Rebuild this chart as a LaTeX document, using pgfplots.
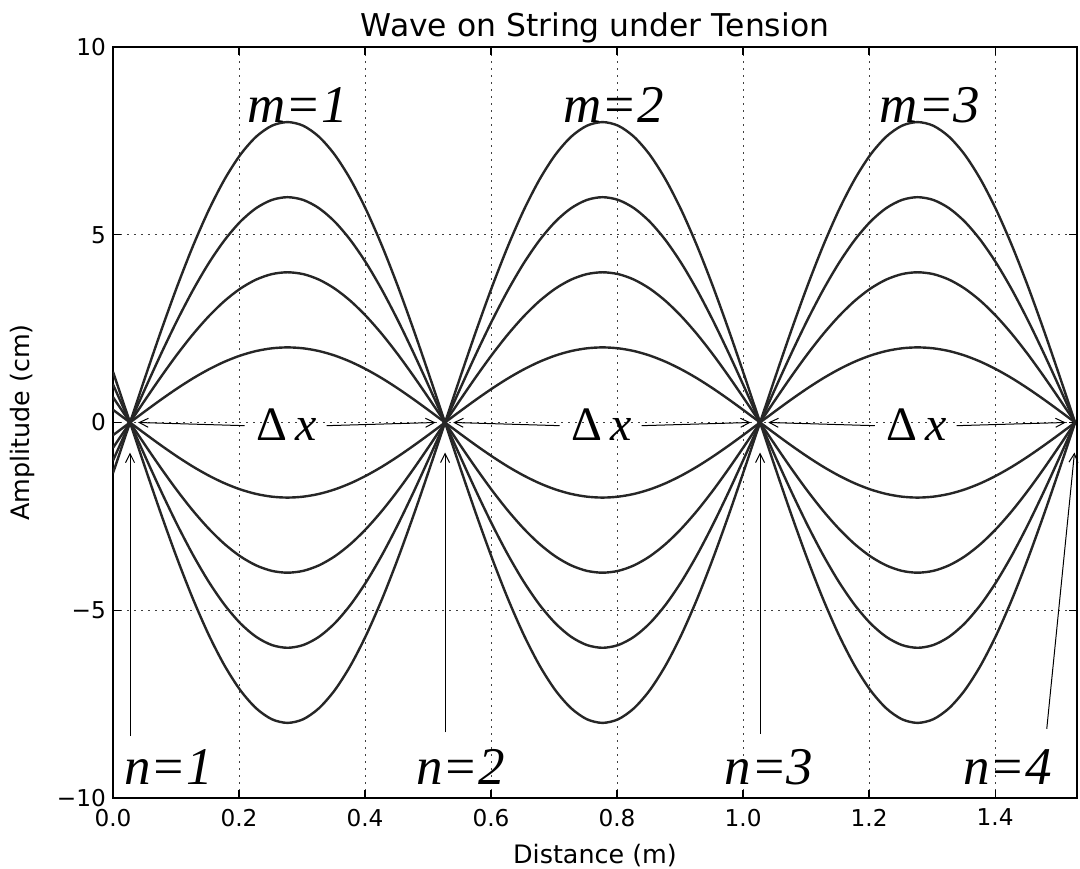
\documentclass[border=0pt]{standalone}
\usepackage{fontspec}
\setmainfont{DejaVu Sans}
\newfontfamily\ann{Liberation Serif}
\usepackage{pgfplots}
\pgfplotsset{compat=1.18}
\usepackage{pgfplotstable}
\usetikzlibrary{arrows.meta}

% standing waves: p = positive amplitude, q = negative amplitude
\pgfplotstableread{
x      p2     p4     p6     p8     q2     q4     q6     q8
0.000 -0.338 -0.675 -1.013 -1.350  0.338  0.675  1.013  1.350
0.027  0      0      0      0      0      0      0      0
0.052  0.313  0.626  0.938  1.251 -0.313 -0.626 -0.938 -1.251
0.077  0.618  1.236  1.854  2.472 -0.618 -1.236 -1.854 -2.472
0.102  0.908  1.816  2.724  3.632 -0.908 -1.816 -2.724 -3.632
0.127  1.176  2.351  3.527  4.702 -1.176 -2.351 -3.527 -4.702
0.152  1.414  2.828  4.243  5.657 -1.414 -2.828 -4.243 -5.657
0.177  1.618  3.236  4.854  6.472 -1.618 -3.236 -4.854 -6.472
0.202  1.782  3.564  5.346  7.128 -1.782 -3.564 -5.346 -7.128
0.227  1.902  3.804  5.706  7.608 -1.902 -3.804 -5.706 -7.608
0.252  1.975  3.951  5.926  7.902 -1.975 -3.951 -5.926 -7.902
0.277  2      4      6      8     -2     -4     -6     -8
0.302  1.975  3.951  5.926  7.902 -1.975 -3.951 -5.926 -7.902
0.327  1.902  3.804  5.706  7.608 -1.902 -3.804 -5.706 -7.608
0.352  1.782  3.564  5.346  7.128 -1.782 -3.564 -5.346 -7.128
0.377  1.618  3.236  4.854  6.472 -1.618 -3.236 -4.854 -6.472
0.402  1.414  2.828  4.243  5.657 -1.414 -2.828 -4.243 -5.657
0.427  1.176  2.351  3.527  4.702 -1.176 -2.351 -3.527 -4.702
0.452  0.908  1.816  2.724  3.632 -0.908 -1.816 -2.724 -3.632
0.477  0.618  1.236  1.854  2.472 -0.618 -1.236 -1.854 -2.472
0.502  0.313  0.626  0.938  1.251 -0.313 -0.626 -0.938 -1.251
0.527  0      0      0      0      0      0      0      0
0.552 -0.313 -0.626 -0.938 -1.251  0.313  0.626  0.938  1.251
0.577 -0.618 -1.236 -1.854 -2.472  0.618  1.236  1.854  2.472
0.602 -0.908 -1.816 -2.724 -3.632  0.908  1.816  2.724  3.632
0.627 -1.176 -2.351 -3.527 -4.702  1.176  2.351  3.527  4.702
0.652 -1.414 -2.828 -4.243 -5.657  1.414  2.828  4.243  5.657
0.677 -1.618 -3.236 -4.854 -6.472  1.618  3.236  4.854  6.472
0.702 -1.782 -3.564 -5.346 -7.128  1.782  3.564  5.346  7.128
0.727 -1.902 -3.804 -5.706 -7.608  1.902  3.804  5.706  7.608
0.752 -1.975 -3.951 -5.926 -7.902  1.975  3.951  5.926  7.902
0.777 -2     -4     -6     -8      2      4      6      8
0.802 -1.975 -3.951 -5.926 -7.902  1.975  3.951  5.926  7.902
0.827 -1.902 -3.804 -5.706 -7.608  1.902  3.804  5.706  7.608
0.852 -1.782 -3.564 -5.346 -7.128  1.782  3.564  5.346  7.128
0.877 -1.618 -3.236 -4.854 -6.472  1.618  3.236  4.854  6.472
0.902 -1.414 -2.828 -4.243 -5.657  1.414  2.828  4.243  5.657
0.927 -1.176 -2.351 -3.527 -4.702  1.176  2.351  3.527  4.702
0.952 -0.908 -1.816 -2.724 -3.632  0.908  1.816  2.724  3.632
0.977 -0.618 -1.236 -1.854 -2.472  0.618  1.236  1.854  2.472
1.002 -0.313 -0.626 -0.938 -1.251  0.313  0.626  0.938  1.251
1.027  0      0      0      0      0      0      0      0
1.052  0.313  0.626  0.938  1.251 -0.313 -0.626 -0.938 -1.251
1.077  0.618  1.236  1.854  2.472 -0.618 -1.236 -1.854 -2.472
1.102  0.908  1.816  2.724  3.632 -0.908 -1.816 -2.724 -3.632
1.127  1.176  2.351  3.527  4.702 -1.176 -2.351 -3.527 -4.702
1.152  1.414  2.828  4.243  5.657 -1.414 -2.828 -4.243 -5.657
1.177  1.618  3.236  4.854  6.472 -1.618 -3.236 -4.854 -6.472
1.202  1.782  3.564  5.346  7.128 -1.782 -3.564 -5.346 -7.128
1.227  1.902  3.804  5.706  7.608 -1.902 -3.804 -5.706 -7.608
1.252  1.975  3.951  5.926  7.902 -1.975 -3.951 -5.926 -7.902
1.277  2      4      6      8     -2     -4     -6     -8
1.302  1.975  3.951  5.926  7.902 -1.975 -3.951 -5.926 -7.902
1.327  1.902  3.804  5.706  7.608 -1.902 -3.804 -5.706 -7.608
1.352  1.782  3.564  5.346  7.128 -1.782 -3.564 -5.346 -7.128
1.377  1.618  3.236  4.854  6.472 -1.618 -3.236 -4.854 -6.472
1.402  1.414  2.828  4.243  5.657 -1.414 -2.828 -4.243 -5.657
1.427  1.176  2.351  3.527  4.702 -1.176 -2.351 -3.527 -4.702
1.452  0.908  1.816  2.724  3.632 -0.908 -1.816 -2.724 -3.632
1.477  0.618  1.236  1.854  2.472 -0.618 -1.236 -1.854 -2.472
1.502  0.313  0.626  0.938  1.251 -0.313 -0.626 -0.938 -1.251
1.527  0      0      0      0      0      0      0      0
}\wave

\begin{document}
\begin{tikzpicture}[
    wave/.style={black!85, line width=1.2pt, smooth},
    lab/.style={font=\fontsize{26.5}{30}\selectfont\ann\itshape, anchor=base, inner sep=0pt},
    dx/.style={font=\fontsize{24}{28}\selectfont\ann, inner sep=0pt},
    arr/.style={black, line width=0.5pt, -{Straight Barb[length=4.5pt,width=4.5pt]}},
]
\begin{axis}[
    name=ax,
    width=482pt, height=375.5pt, scale only axis,
    xmin=0, xmax=1.53, ymin=-10, ymax=10,
    xtick={0,0.2,0.4,0.6,0.8,1.0,1.2,1.4},
    xticklabels={0.0,0.2,0.4,0.6,0.8,1.0,1.2,1.4},
    ytick={-10,-5,0,5,10},
    yticklabels={−10,−5,0,5,10},
    tick pos=both, tick align=inside,
    major tick length=4pt,
    tick style={black, line width=0.6pt},
    axis line style={black, line width=0.9pt},
    grid=major,
    major grid style={black!75, line width=0.5pt, dash pattern=on 1pt off 2.5pt},
    tick label style={font=\fontsize{11.6}{13}\selectfont},
    xticklabel style={yshift=-2pt},
    title={Wave on String under Tension},
    title style={font=\fontsize{15.7}{18}\selectfont, at={(axis description cs:0.5,1)}, anchor=base, yshift=-1pt},
    xlabel={Distance (m)},
    ylabel={Amplitude (cm)},
    label style={font=\fontsize{12.7}{15}\selectfont},
    x label style={at={(axis description cs:0.5,0)}, anchor=center, yshift=-29pt},
    y label style={at={(axis description cs:0,0.5)}, anchor=center, yshift=45.5pt},
    clip mode=individual,
]
\addplot[wave] table[y=p2]{\wave};
\addplot[wave] table[y=p4]{\wave};
\addplot[wave] table[y=p6]{\wave};
\addplot[wave] table[y=p8]{\wave};
\addplot[wave] table[y=q2]{\wave};
\addplot[wave] table[y=q4]{\wave};
\addplot[wave] table[y=q6]{\wave};
\addplot[wave] table[y=q8]{\wave};

% mode labels
\node[lab] at (axis cs:0.293,8.0) {m=1};
\node[lab] at (axis cs:0.795,8.0) {m=2};
\node[lab] at (axis cs:1.297,8.0) {m=3};

% node labels and arrows
\node[lab] at (axis cs:0.088,-9.65) {n=1};
\node[lab] at (axis cs:0.552,-9.65) {n=2};
\node[lab] at (axis cs:1.041,-9.65) {n=3};
\node[lab] at (axis cs:1.420,-9.65) {n=4};
\draw[arr] (axis cs:0.027,-8.35) -- (axis cs:0.027,-0.8);
\draw[arr] (axis cs:0.527,-8.25) -- (axis cs:0.527,-0.8);
\draw[arr] (axis cs:1.027,-8.30) -- (axis cs:1.027,-0.8);
\draw[arr] (axis cs:1.482,-8.16) -- (axis cs:1.526,-0.8);

% spacing arrows
\node[dx] at (axis cs:0.276,-0.05) {Δ\,\textit{x}};
\draw[arr] (axis cs:0.209,-0.085) -- (axis cs:0.040,0);
\draw[arr] (axis cs:0.339,-0.085) -- (axis cs:0.512,0);
\node[dx] at (axis cs:0.776,-0.05) {Δ\,\textit{x}};
\draw[arr] (axis cs:0.709,-0.085) -- (axis cs:0.540,0);
\draw[arr] (axis cs:0.839,-0.085) -- (axis cs:1.012,0);
\node[dx] at (axis cs:1.276,-0.05) {Δ\,\textit{x}};
\draw[arr] (axis cs:1.209,-0.085) -- (axis cs:1.040,0);
\draw[arr] (axis cs:1.339,-0.085) -- (axis cs:1.512,0);
\end{axis}
\pgfresetboundingbox
\path[use as bounding box] ([xshift=-56.5pt,yshift=-35.5pt]ax.south west) rectangle ([xshift=1.5pt,yshift=23.5pt]ax.north east);
\end{tikzpicture}
\end{document}
